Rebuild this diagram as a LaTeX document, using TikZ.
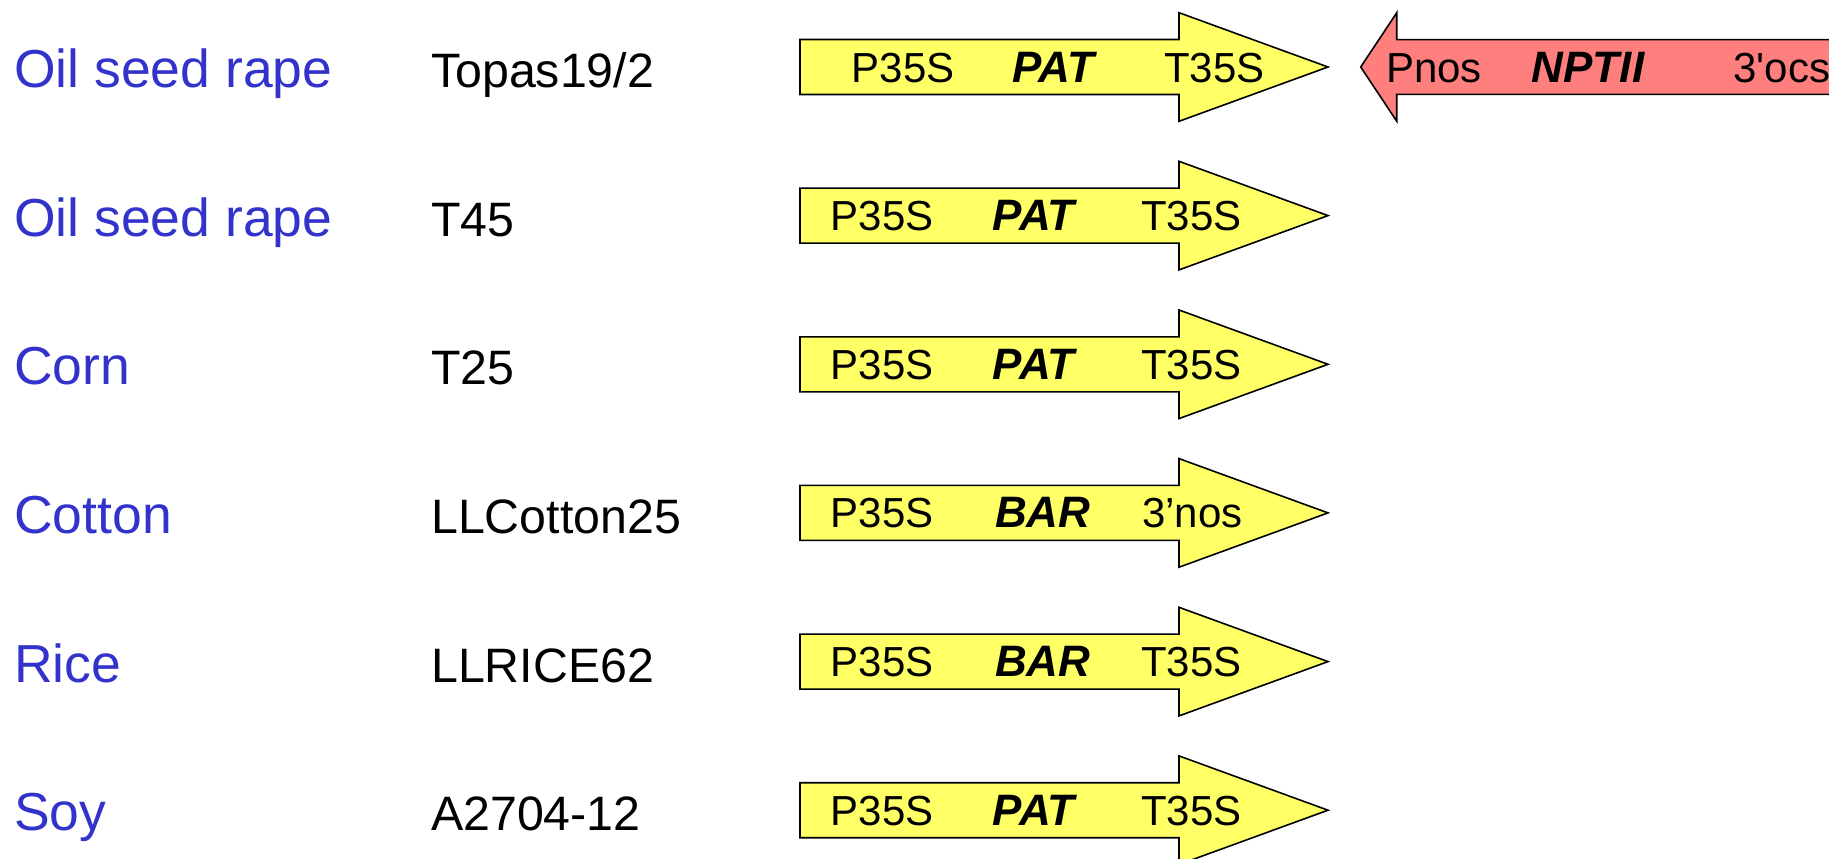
\documentclass[tikz,border=0pt]{standalone}
\usepackage{fontspec}
\setmainfont{Liberation Sans}
\definecolor{cropblue}{HTML}{3333CC}
\definecolor{geneyellow}{HTML}{FFFF66}
\definecolor{genered}{HTML}{FF7F7F}
\newcommand{\sq}{\XeTeXglyph\XeTeXglyphindex "quotesingle"\relax}
\tikzset{
  crop/.style={anchor=base west, inner sep=0pt, text=cropblue, font=\fontsize{53.5}{60}\selectfont},
  event/.style={anchor=base west, inner sep=0pt, text=black, font=\fontsize{48.3}{55}\selectfont},
  part/.style={anchor=base west, inner sep=0pt, text=black, font=\fontsize{42}{48}\selectfont},
  gene/.style={part, font=\fontsize{44}{50}\selectfont\bfseries\itshape},
  fwdarrow/.style={draw=black, line width=1.6pt, fill=geneyellow, line join=miter},
  revarrow/.style={draw=black, line width=1.6pt, fill=genered, line join=miter}
}
\begin{document}
\begin{tikzpicture}[x=1pt,y=-1pt]
\useasboundingbox (0,0) rectangle (1829,859);
\clip (0,0) rectangle (1829,859);
% forward arrows
\foreach \c in {67,215.6,364.3,512.9,661.6,810.2}{
  \draw[fwdarrow] (800,\c-27.5) -- (1179,\c-27.5) -- (1179,\c-54.3) -- (1328,\c)
    -- (1179,\c+54.3) -- (1179,\c+27.5) -- (800,\c+27.5) -- cycle;
}
% reverse arrow
\draw[revarrow] (1850,67-27.3) -- (1396.7,67-27.3) -- (1396.7,67-54.2) -- (1360.7,67)
  -- (1396.7,67+54.2) -- (1396.7,67+27.3) -- (1850,67+27.3) -- cycle;

% row 1
\node[crop]  (c1) at (14,87.5) {Oil seed rape};
\node[event] (e1) at (431,87.5) {Topas19/2};
\node[part]  (p1) at (851.5,83) {P35S};
\node[gene]  (g1) at (1012.5,83) {PAT};
\node[part]  (t1) at (1164,83) {T35S};
\node[part]  (p1r) at (1385.8,83) {Pnos};
\node[gene]  (g1r) at (1531.6,83) {NPTII};
\node[part]  (t1r) at (1733.4,83) {3\sq ocs};
% row 2
\node[crop]  (c2) at (14,236.1) {Oil seed rape};
\node[event] (e2) at (431,236.1) {T45};
\node[part]  (p2) at (830.5,230.6) {P35S};
\node[gene]  (g2) at (992.7,230.6) {PAT};
\node[part]  (t2) at (1140.8,230.6) {T35S};
% row 3
\node[crop]  (c3) at (14,384.8) {Corn};
\node[event] (e3) at (431,384.8) {T25};
\node[part]  (p3) at (830.5,379.3) {P35S};
\node[gene]  (g3) at (992.7,379.3) {PAT};
\node[part]  (t3) at (1140.8,379.3) {T35S};
% row 4
\node[crop]  (c4) at (14,533.4) {Cotton};
\node[event] (e4) at (431,533.4) {LLCotton25};
\node[part]  (p4) at (830.5,527.9) {P35S};
\node[gene]  (g4) at (995,527.9) {BAR};
\node[part]  (t4) at (1142,527.9) {3’nos};
% row 5
\node[crop]  (c5) at (14,682.1) {Rice};
\node[event] (e5) at (431,682.1) {LLRICE62};
\node[part]  (p5) at (830.5,676.6) {P35S};
\node[gene]  (g5) at (995,676.6) {BAR};
\node[part]  (t5) at (1140.8,676.6) {T35S};
% row 6
\node[crop]  (c6) at (14,830.7) {Soy};
\node[event] (e6) at (431,830.7) {A2704-12};
\node[part]  (p6) at (830.5,825.2) {P35S};
\node[gene]  (g6) at (992.7,825.2) {PAT};
\node[part]  (t6) at (1140.8,825.2) {T35S};
\end{tikzpicture}
\end{document}
